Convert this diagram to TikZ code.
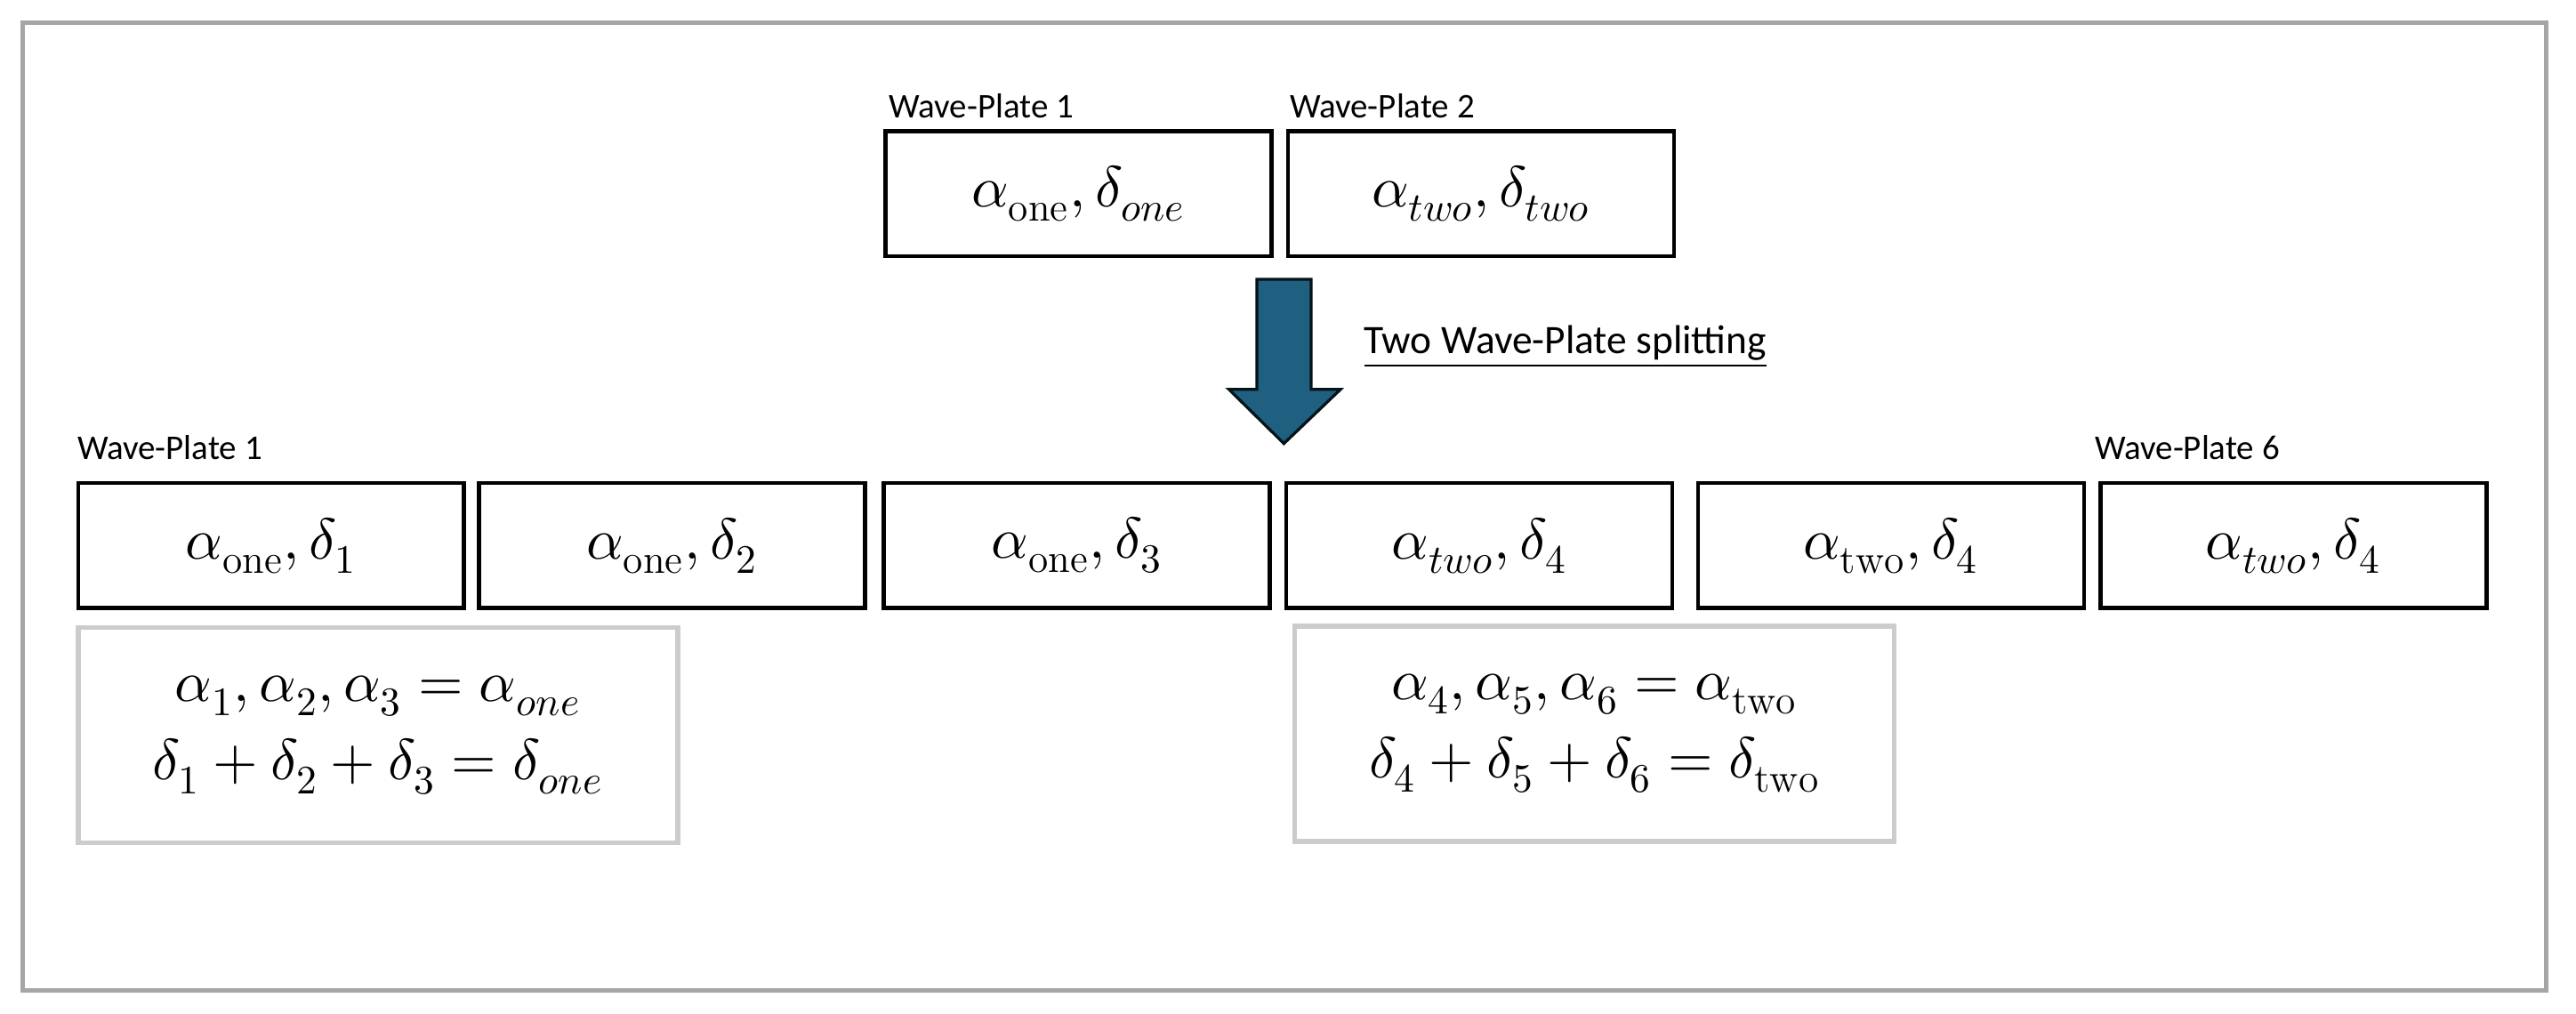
\documentclass[tikz,border=0pt]{standalone}
\usepackage{fontspec}
\setmainfont{Carlito}
\usepackage{unicode-math}
\setmathfont{Latin Modern Math}
\setmathrm{Latin Modern Roman}
\usetikzlibrary{positioning}
\definecolor{arrowblue}{HTML}{1F5F7F}
\begin{document}
\begin{tikzpicture}
  [
    x=0.02cm, y=-0.02cm,
    Plate/.style={draw=black, line width=1.4pt, minimum width=4.7cm, minimum height=1.52cm, inner sep=0pt, font=\fontsize{20}{23}\selectfont},
    Sum/.style={draw=black!20, line width=1.8pt, minimum width=7.3cm, minimum height=2.62cm, align=center, inner sep=0pt, font=\fontsize{20}{27}\selectfont},
    Tag/.style={anchor=south west, inner sep=1pt, font=\fontsize{12}{14}\selectfont}
  ]
  % frame
  \useasboundingbox (0,0) rectangle (1568,617);
  \draw[black!35, line width=1.5pt] (14,14) rectangle (1550,603);

  % Nodes (x, y)
  \node[Plate] (t1) at (656.5,118) {$\alpha_{\mathrm{one}},\delta_{one}$};
  \node[Plate] (t2) at (901.5,118) {$\alpha_{two},\delta_{two}$};
  \node[Tag] (l1) at (539,74) {Wave-Plate 1};
  \node[Tag] (l2) at (783,74) {Wave-Plate 2};

  \node[Plate] (b1) at (165,332) {$\alpha_{\mathrm{one}},\delta_{1}$};
  \node[Plate] (b2) at (409,332) {$\alpha_{\mathrm{one}},\delta_{2}$};
  \node[Plate] (b3) at (655.5,332) {$\alpha_{\mathrm{one}},\delta_{3}$};
  \node[Plate] (b4) at (900.5,332) {$\alpha_{two},\delta_{4}$};
  \node[Plate] (b5) at (1151,332) {$\alpha_{\mathrm{two}},\delta_{4}$};
  \node[Plate] (b6) at (1396,332) {$\alpha_{two},\delta_{4}$};
  \node[Tag] (l3) at (45,282) {Wave-Plate 1};
  \node[Tag] (l6) at (1273,282) {Wave-Plate 6};

  \node[Sum] (s1) at (230,447.5) {$\alpha_1,\alpha_2,\alpha_3=\alpha_{one}$\\$\delta_1+\delta_2+\delta_3=\delta_{one}$};
  \node[Sum] (s2) at (970.5,446.5) {$\alpha_4,\alpha_5,\alpha_6=\alpha_{\mathrm{two}}$\\$\delta_4+\delta_5+\delta_6=\delta_{\mathrm{two}}$};

  % splitting arrow
  \draw[fill=arrowblue, draw=black!80!arrowblue, line width=1pt]
    (765,170) -- (798,170) -- (798,237) -- (816,237) -- (781.5,270)
    -- (748,237) -- (765,237) -- cycle;
  \node[anchor=west, inner sep=0pt, font=\fontsize{14}{16}\selectfont] (split) at (830,211) {\underline{Two Wave-Plate splitting}};
\end{tikzpicture}
\end{document}
